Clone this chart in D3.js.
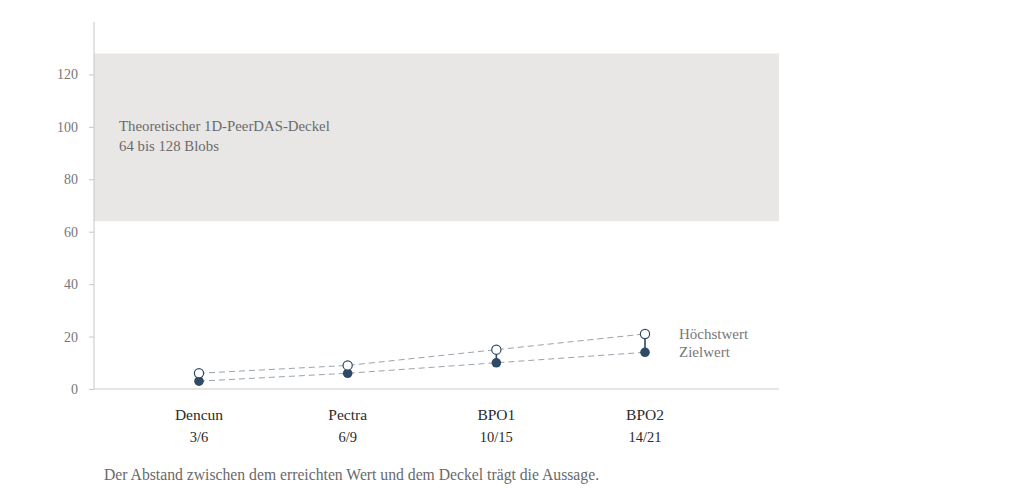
<!DOCTYPE html>
<html><head><meta charset="utf-8">
<script src="https://cdn.jsdelivr.net/npm/d3@7"></script>
<style>
body{margin:0;background:#fff;}
svg text{font-family:"Liberation Serif","DejaVu Serif",serif;}
</style></head>
<body>
<svg id="c" width="1012" height="500"></svg>
<script>
const categories = ["Dencun","Pectra","BPO1","BPO2"];
const subLabels = ["3/6","6/9","10/15","14/21"];
const targetValues = [3,6,10,14];
const maxValues = [6,9,15,21];
const yTicks = [0,20,40,60,80,100,120];
const capRange = [64,128];
const capLabel = ["Theoretischer 1D-PeerDAS-Deckel","64 bis 128 Blobs"];
const seriesLabels = ["Höchstwert","Zielwert"];
const footnote = "Der Abstand zwischen dem erreichten Wert und dem Deckel trägt die Aussage.";

const svg = d3.select("#c");
const L = 94, R = 779, T = 22, B = 389;
const y = d3.scaleLinear().domain([0,140]).range([B,T]);
const x = d3.scalePoint().domain(categories).range([L+105, L+551]);

// cap band
svg.append("rect").attr("x",L).attr("width",R-L)
  .attr("y",y(capRange[1])).attr("height",y(capRange[0])-y(capRange[1]))
  .attr("fill","#e8e7e5");
svg.append("text").attr("x",L+25).attr("y",y(capRange[1])+78)
  .attr("fill","#6a6a6a").attr("font-size",14.8)
  .selectAll("tspan").data(capLabel).join("tspan")
  .attr("x",L+25).attr("dy",(d,i)=>i?20:0).text(d=>d);

// y axis
const yAxis = svg.append("g").attr("transform",`translate(${L},0)`)
  .call(d3.axisLeft(y).tickValues(yTicks).tickSize(5).tickPadding(11).tickFormat(d3.format("d")));
yAxis.select(".domain").attr("stroke","#c9c6c2").attr("d",`M0,${T}V${B}`);
yAxis.selectAll(".tick line").attr("stroke","#c9c6c2");
yAxis.selectAll(".tick text").attr("fill","#777").attr("font-size",14)
  .style("font-family",'"Liberation Serif",serif');

// baseline
svg.append("line").attr("x1",L).attr("x2",R).attr("y1",B).attr("y2",B)
  .attr("stroke","#cfccc8").attr("stroke-width",1.2);

// x labels
const xg = svg.append("g");
xg.selectAll("text.cat").data(categories).join("text").attr("class","cat")
  .attr("x",d=>x(d)).attr("y",B+31).attr("text-anchor","middle")
  .attr("fill","#2b2b2b").attr("font-size",15.5).text(d=>d);
xg.selectAll("text.sub").data(subLabels).join("text").attr("class","sub")
  .attr("x",(d,i)=>x(categories[i])).attr("y",B+53).attr("text-anchor","middle")
  .attr("fill","#2b2b2b").attr("font-size",14.5).text(d=>d);

// lines
const line = d3.line().x((d,i)=>x(categories[i])).y(d=>y(d));
[maxValues,targetValues].forEach(vals=>{
  svg.append("path").attr("d",line(vals)).attr("fill","none")
    .attr("stroke","#9aa3ad").attr("stroke-width",1).attr("stroke-dasharray","6,4");
});
// connectors
svg.selectAll("line.conn").data(categories).join("line").attr("class","conn")
  .attr("x1",d=>x(d)).attr("x2",d=>x(d))
  .attr("y1",(d,i)=>y(maxValues[i])).attr("y2",(d,i)=>y(targetValues[i]))
  .attr("stroke","#2f4a66").attr("stroke-width",1.6);
// target dots
svg.selectAll("circle.t").data(targetValues).join("circle").attr("class","t")
  .attr("cx",(d,i)=>x(categories[i])).attr("cy",d=>y(d)).attr("r",4.8)
  .attr("fill","#2f4a66");
// max dots
svg.selectAll("circle.m").data(maxValues).join("circle").attr("class","m")
  .attr("cx",(d,i)=>x(categories[i])).attr("cy",d=>y(d)).attr("r",4.6)
  .attr("fill","#fff").attr("stroke","#2f4a66").attr("stroke-width",1.2);

// series labels
const lastX = x(categories[categories.length-1]);
svg.append("text").attr("x",lastX+34).attr("y",y(maxValues[3])+5)
  .attr("fill","#777").attr("font-size",15).text(seriesLabels[0]);
svg.append("text").attr("x",lastX+34).attr("y",y(targetValues[3])+5)
  .attr("fill","#777").attr("font-size",15).text(seriesLabels[1]);

// footnote
svg.append("text").attr("x",104).attr("y",480).attr("fill","#6a6a6a")
  .attr("font-size",15.7).text(footnote);
</script>
</body></html>
